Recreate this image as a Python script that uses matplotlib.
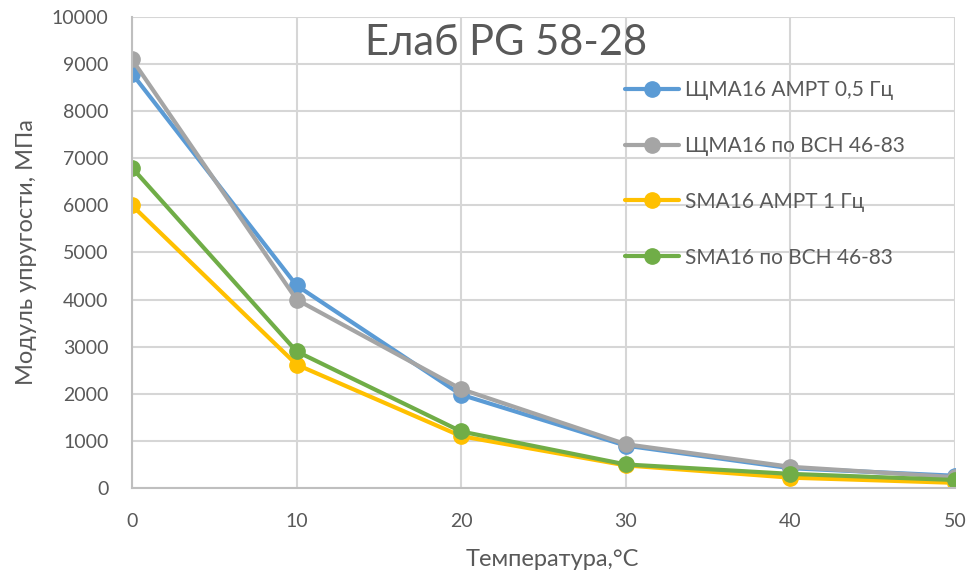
import matplotlib
matplotlib.use("Agg")
import matplotlib.pyplot as plt

plt.rcParams['font.family'] = ['Lato', 'DejaVu Sans']

temps = [0, 10, 20, 30, 40, 50]
shma_ampt = [8800, 4300, 1980, 900, 420, 260]
shma_vsn = [9100, 4000, 2100, 930, 450, 230]
sma_ampt = [6000, 2620, 1100, 480, 220, 110]
sma_vsn = [6800, 2900, 1200, 500, 300, 170]

labels = ["ЩМА16 AMPT 0,5 Гц", "ЩМА16 по ВСН 46-83", "SMA16 AMPT 1 Гц", "SMA16 по ВСН 46-83"]
colors = ["#5B9BD5", "#A5A5A5", "#FFC000", "#70AD47"]
series = [shma_ampt, shma_vsn, sma_ampt, sma_vsn]

title = "Eлаб PG 58-28"
xlabel = "Температура,°C"
ylabel = "Модуль упругости, МПа"

txt = "#595959"
W, H = 969, 571
fig = plt.figure(figsize=(W / 100, H / 100), dpi=100)
ax = fig.add_axes([132 / W, 1 - 488 / H, (955 - 132) / W, (488 - 17) / H])

for vals, c, lab in zip(series, colors, labels):
    ax.plot(temps, vals, color=c, lw=3, marker='o', ms=11, label=lab, solid_capstyle='round')

ax.set_xlim(0, 50)
ax.set_ylim(0, 10000)
ax.set_xticks(range(0, 51, 10))
ax.set_yticks(range(0, 10001, 1000))
ax.grid(True, color="#D6D6D6", lw=1.5)
ax.set_axisbelow(True)
for s in ['top', 'right']:
    ax.spines[s].set_visible(False)
for s in ['left', 'bottom']:
    ax.spines[s].set_color("#BFBFBF")
    ax.spines[s].set_linewidth(1.5)
ax.tick_params(length=0, labelsize=14, labelcolor=txt)
ax.tick_params(axis='y', pad=17)
ax.tick_params(axis='x', pad=18)

fig.text(552 / W, 1 - 559 / H, xlabel, fontsize=17, color=txt, ha='center', va='center')
fig.text(27 / W, 1 - 252 / H, ylabel, fontsize=17, color=txt, ha='center', va='center',
         rotation=90)
fig.text(506 / W, 1 - 43 / H, title, fontsize=30, color=txt, ha='center', va='center')

leg = ax.legend(loc='upper left', bbox_to_anchor=(625 / W, 1 - 80 / H),
                bbox_transform=fig.transFigure, frameon=False,
                fontsize=15, labelspacing=1.72, handlelength=2.6, handletextpad=0.3,
                borderaxespad=0, borderpad=0)
for t in leg.get_texts():
    t.set_color(txt)

fig.savefig("out.png", dpi=100)
